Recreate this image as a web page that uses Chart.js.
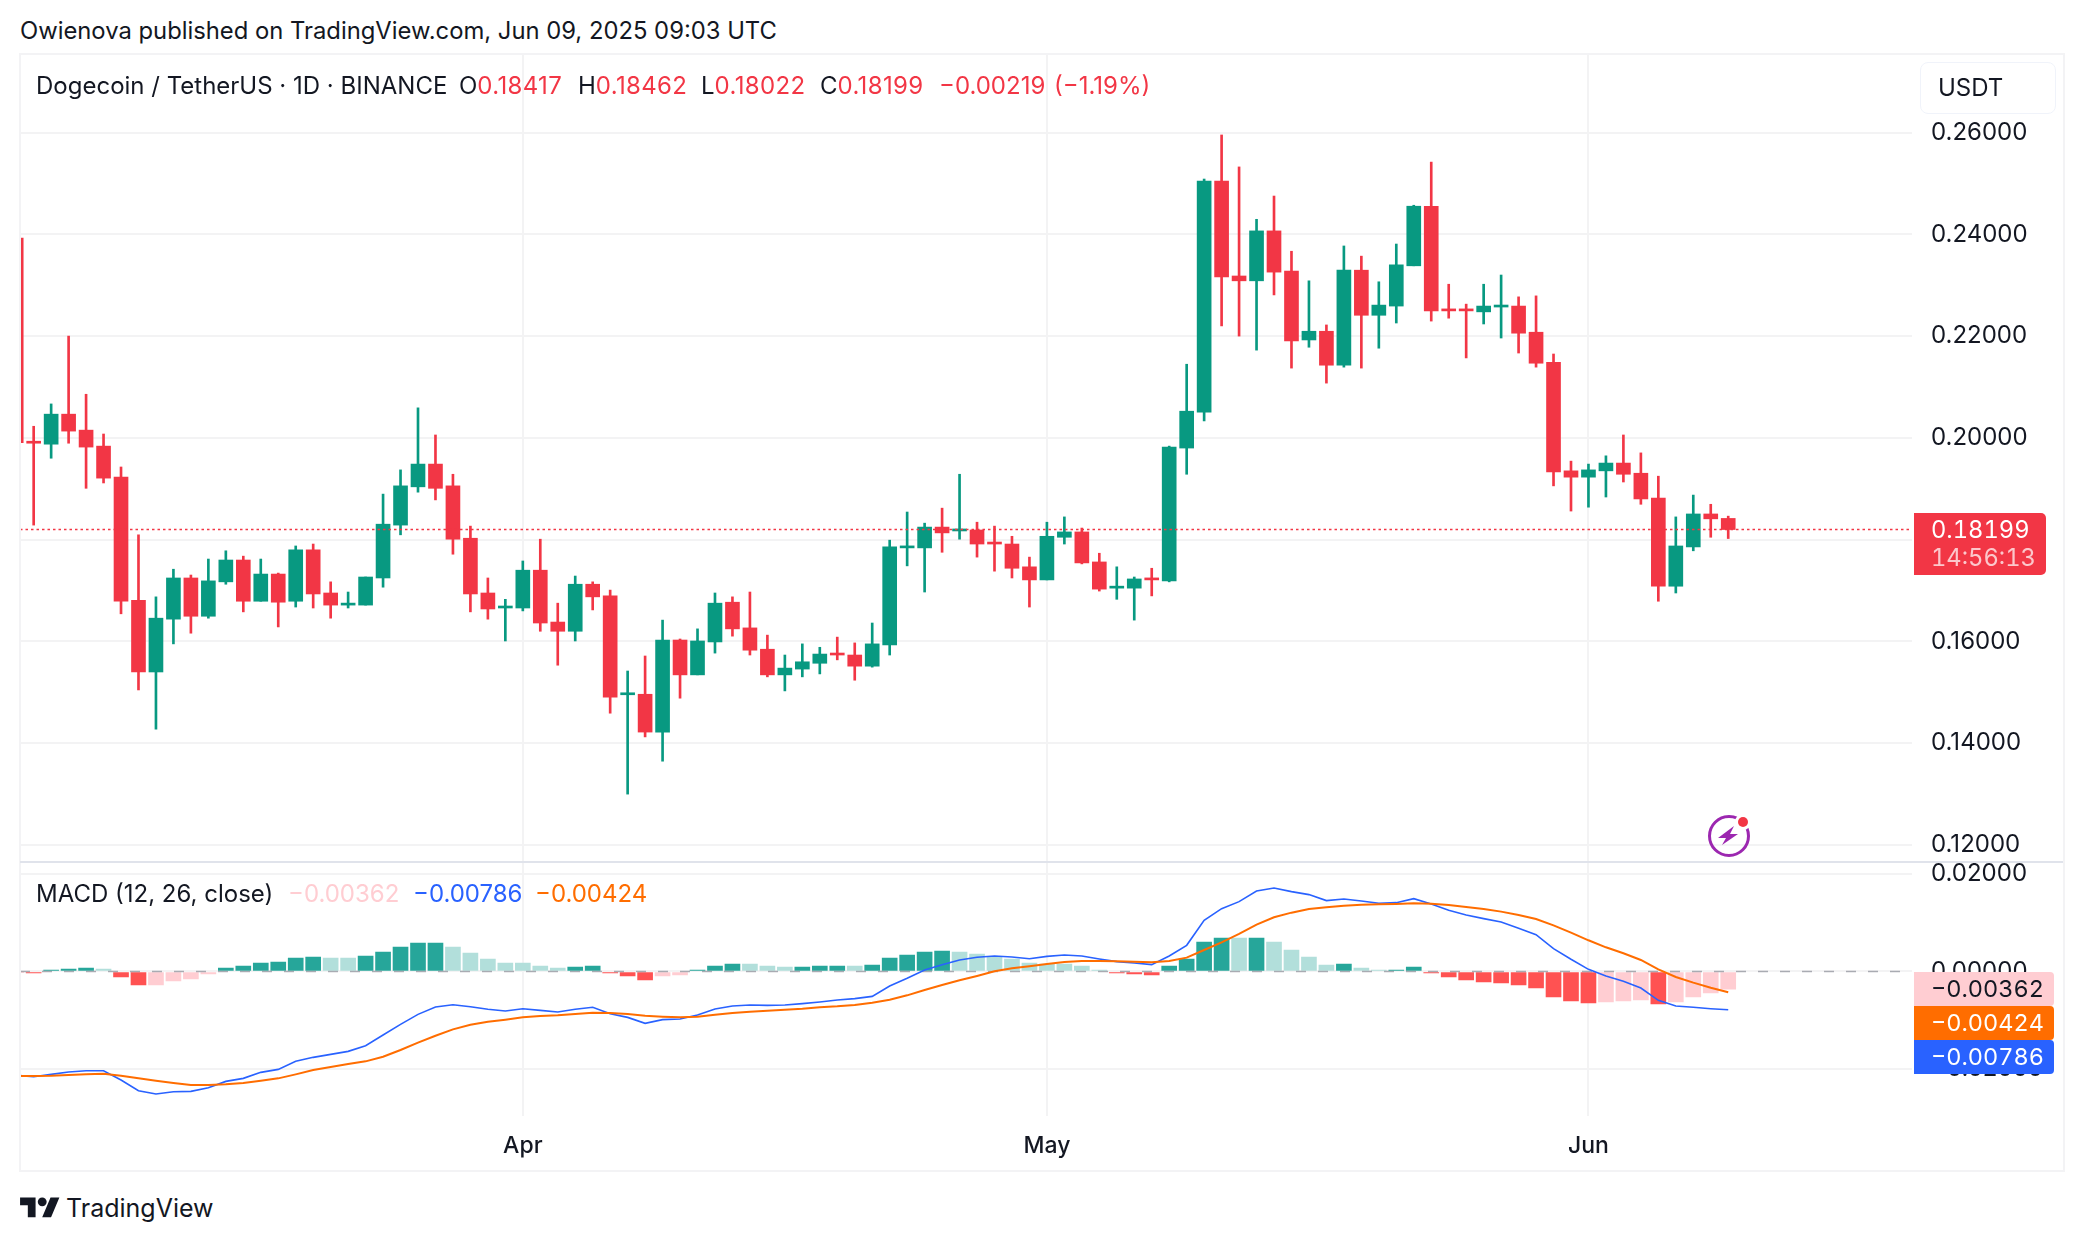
<!DOCTYPE html>
<html><head><meta charset="utf-8">
<script src="https://cdn.jsdelivr.net/npm/chart.js@4"></script>
<style>
html,body{margin:0;padding:0;background:#fff;width:2084px;height:1242px;overflow:hidden}
body{font-family:Inter,"Noto Sans",sans-serif;color:#131722;position:relative}
canvas{position:absolute;left:0;display:block}
.t{position:absolute;white-space:nowrap;line-height:1;transform:translateY(-50%)}
.n{font-variant-numeric:tabular-nums}
.r{color:#f23645}
.v{letter-spacing:.35px}
.b{position:absolute}
</style></head><body>
<canvas id="price" width="2084" height="808" style="top:54px"></canvas>
<canvas id="macd" width="2084" height="310" style="top:862px"></canvas>

<div class="b" style="left:19px;top:53px;width:2042px;height:1115px;border:2px solid #f3f3f5;pointer-events:none"></div>
<div class="b" style="left:20px;top:860.5px;width:2043px;height:2px;background:#e0e3eb"></div>

<div class="t" style="left:20px;top:31px;font-size:23.8px" id="pub">Owienova published on TradingView.com, Jun 09, 2025 09:03 UTC</div>
<div class="t" style="left:36px;top:86px;font-size:24px">Dogecoin / TetherUS · 1D · BINANCE</div>
<div class="t" style="left:459px;top:86px;font-size:24px">O<span class="r v">0.18417</span></div>
<div class="t" style="left:578px;top:86px;font-size:24px">H<span class="r v">0.18462</span></div>
<div class="t" style="left:701px;top:86px;font-size:24px">L<span class="r v">0.18022</span></div>
<div class="t" style="left:820px;top:86px;font-size:24px">C<span class="r v">0.18199</span></div>
<div class="t r" style="left:939px;top:86px;font-size:24px">−0.00219</div>
<div class="t r" style="left:1054px;top:86px;font-size:24px">(−1.19%)</div>

<div class="b" style="left:1920px;top:62px;width:134px;height:50px;background:#fff;border:1.5px solid #f0f3fa;border-radius:8px"></div>
<div class="t" style="left:1938px;top:88px;font-size:24px">USDT</div>

<div class="b" style="left:1914px;top:513px;width:132px;height:62px;background:#f23645;border-radius:0 5px 5px 0"></div>
<div class="t n" style="left:1931px;top:530px;font-size:23.7px;color:#fff">0.18199</div>
<div class="t n" style="left:1931px;top:558px;font-size:23.7px;color:rgba(255,255,255,.72)">14:56:13</div>

<div class="t" style="left:36px;top:894px;font-size:24px">MACD (12, 26, close)</div>
<div class="t" style="left:288px;top:894px;font-size:24px;color:#ffcdd2">−0.00362</div>
<div class="t" style="left:413px;top:894px;font-size:24px;color:#2962ff">−0.00786</div>
<div class="t" style="left:535px;top:894px;font-size:24px;color:#ff6d00">−0.00424</div>

<div class="b" style="left:1914px;top:972px;width:140px;height:34px;background:#ffcdd2;border-radius:0 4px 4px 0"></div>
<div class="b" style="left:1914px;top:1006px;width:140px;height:34px;background:#ff6d00;border-radius:0 4px 4px 0"></div>
<div class="b" style="left:1914px;top:1040px;width:140px;height:34px;background:#2962ff;border-radius:0 4px 4px 0"></div>
<div class="t n" style="left:1931px;top:989px;font-size:23.5px;color:#131722">−0.00362</div>
<div class="t n" style="left:1931px;top:1023px;font-size:23.5px;color:#fff">−0.00424</div>
<div class="t n" style="left:1931px;top:1057px;font-size:23.5px;color:#fff">−0.00786</div>

<svg class="b" style="left:20px;top:1193px" width="40" height="31" viewBox="0 0 36 28"><path fill="#131722" d="M14 22H7V11H0V4h14v18zM28 22h-8l7.5-18h8L28 22z"/><circle fill="#131722" cx="20" cy="8" r="4"/></svg>
<div class="t" style="left:66px;top:1208px;font-size:25px">TradingView</div>

<svg class="b" style="left:1705px;top:812px" width="48" height="48" viewBox="0 0 48 48">
<circle cx="24" cy="24" r="19.5" fill="none" stroke="#9c27b0" stroke-width="3"/>
<circle cx="38" cy="10" r="8" fill="#fff"/>
<circle cx="38" cy="10" r="5" fill="#f23645"/>
<path fill="#9c27b0" d="M29 14 L13 26 H21 L17 33 L33 22 H25 Z"/>
</svg>

<script>
const dates = [
 'Mar 03','Mar 04','Mar 05','Mar 06','Mar 07','Mar 08','Mar 09','Mar 10','Mar 11','Mar 12',
 'Mar 13','Mar 14','Mar 15','Mar 16','Mar 17','Mar 18','Mar 19','Mar 20','Mar 21','Mar 22',
 'Mar 23','Mar 24','Mar 25','Mar 26','Mar 27','Mar 28','Mar 29','Mar 30','Mar 31',
 'Apr 01','Apr 02','Apr 03','Apr 04','Apr 05','Apr 06','Apr 07','Apr 08','Apr 09','Apr 10',
 'Apr 11','Apr 12','Apr 13','Apr 14','Apr 15','Apr 16','Apr 17','Apr 18','Apr 19','Apr 20',
 'Apr 21','Apr 22','Apr 23','Apr 24','Apr 25','Apr 26','Apr 27','Apr 28','Apr 29','Apr 30',
 'May 01','May 02','May 03','May 04','May 05','May 06','May 07','May 08','May 09','May 10',
 'May 11','May 12','May 13','May 14','May 15','May 16','May 17','May 18','May 19','May 20',
 'May 21','May 22','May 23','May 24','May 25','May 26','May 27','May 28','May 29','May 30','May 31',
 'Jun 01','Jun 02','Jun 03','Jun 04','Jun 05','Jun 06','Jun 07','Jun 08','Jun 09'];
const opens = [
 .23924,.19933,.19876,.20466,.20152,.19838,.19228,.16809,.154,.16438,
 .17247,.16495,.17171,.176,.1679,.17324,.1679,.178,.16952,.16714,
 .16714,.17247,.18286,.19038,.19485,.19057,.18028,.16952,.16657,.16657,
 .174,.16381,.162,.17124,.16895,.14952,.14962,.14219,.16028,.15343,
 .1599,.16771,.16266,.15847,.15343,.15457,.15571,.15771,.15733,.15514,
 .15933,.17838,.17838,.18247,.18171,.1819,.17952,.17914,.17466,.17209,
 .18047,.18152,.17562,.17047,.17047,.17247,.1719,.198,.20505,.25047,
 .23181,.23086,.24067,.23276,.21924,.22095,.21428,.23295,.22409,.2259,
 .23381,.24552,.22533,.22533,.22476,.22571,.2259,.22076,.21486,.19352,
 .19228,.19352,.19505,.19305,.18819,.17085,.17857,.18505,.18417];
const highs = [
 .23924,.20228,.20667,.22,.20857,.20076,.19428,.18095,.16876,.17419,
 .17305,.17619,.17781,.17676,.17619,.17343,.17876,.17914,.17171,.16971,
 .17266,.18895,.19371,.2059,.20057,.19285,.18266,.17247,.16828,.17581,
 .18009,.16752,.17285,.17171,.17009,.15419,.15714,.16419,.16048,.16247,
 .16952,.16876,.16971,.16124,.15733,.15952,.15885,.16085,.15971,.16362,
 .1799,.18543,.18324,.18619,.19285,.18343,.18266,.18066,.17657,.18343,
 .18447,.18228,.17733,.17466,.17266,.17438,.19838,.21447,.25086,.25952,
 .25324,.24295,.24752,.23667,.23086,.22219,.23771,.23571,.23067,.23809,
 .24571,.25419,.23019,.22628,.23019,.232,.22771,.2279,.21648,.19543,
 .19485,.19647,.20057,.19705,.19247,.18447,.18876,.18695,.18462];
const lows = [
 .19905,.18286,.196,.19895,.19009,.19114,.16543,.15047,.14276,.15952,
 .16162,.16457,.17124,.16581,.1679,.16285,.16676,.16657,.16457,.16657,
 .16714,.17066,.18095,.18933,.18781,.17714,.16581,.16438,.16009,.166,
 .162,.15533,.16009,.16619,.1459,.13,.14124,.13647,.14885,.15343,
 .15771,.16104,.15733,.15304,.15028,.15304,.15362,.15638,.15238,.15495,
 .15733,.17485,.16971,.17752,.18009,.17657,.17381,.17247,.16676,.17209,
 .17914,.17524,.1699,.16828,.16419,.16895,.17171,.19285,.20333,.222,
 .22,.21724,.22809,.21371,.21781,.21076,.2139,.21371,.21762,.22257,
 .23381,.22295,.22352,.21571,.22238,.21962,.21667,.2139,.19057,.18562,
 .18638,.18838,.19133,.18695,.1679,.16952,.17781,.18047,.18022];
const closes = [
 .19905,.19895,.20466,.20133,.19819,.19209,.1679,.154,.16457,.17247,
 .16495,.1719,.176,.1679,.17324,.16771,.178,.16933,.16714,.16752,
 .17266,.18304,.19057,.19485,.19009,.18009,.16933,.16638,.16695,.174,
 .16362,.162,.17124,.16876,.14904,.1499,.14219,.16028,.15343,.16009,
 .16752,.16247,.15828,.15343,.15476,.156,.15752,.15733,.15514,.15952,
 .17857,.17876,.18247,.18133,.18209,.17914,.17914,.17438,.17209,.18066,
 .18152,.17543,.17028,.17085,.17228,.17209,.19819,.20524,.25047,.23162,
 .23086,.24067,.23257,.21905,.22095,.21428,.23295,.22409,.22609,.234,
 .24552,.22495,.22495,.22495,.2259,.22609,.22057,.21467,.19333,.19228,
 .19371,.19505,.19285,.188,.17085,.17876,.18505,.18409,.18199];
const macdLine = [
 -.02131,-.02158,-.0211,-.02062,-.02035,-.02035,-.02226,-.02445,-.02514,-.02466,
 -.02459,-.02384,-.02254,-.02192,-.02069,-.02008,-.01843,-.01761,-.017,-.01638,
 -.01522,-.01303,-.01084,-.00879,-.00728,-.00681,-.00722,-.00776,-.00811,-.00763,
 -.00797,-.00831,-.00776,-.00735,-.00865,-.00941,-.01064,-.00988,-.00975,-.00893,
 -.0077,-.00708,-.00687,-.00694,-.00687,-.0066,-.00626,-.00585,-.00557,-.0051,
 -.00298,-.0014,.00031,.0014,.00236,.00291,.00318,.00298,.00263,.00311,
 .00339,.00318,.00257,.00202,.00174,.0014,.00318,.00537,.0105,.01289,
 .01433,.01652,.01713,.01638,.01577,.01454,.01488,.01447,.01399,.01412,
 .01495,.01385,.01255,.01159,.01084,.01016,.00886,.00756,.00469,.0025,
 .00044,-.00092,-.00202,-.00339,-.00592,-.00708,-.00735,-.00763,-.00786];
const signalLine = [
 -.02144,-.02144,-.02138,-.02124,-.0211,-.02096,-.02138,-.02192,-.0224,-.02288,
 -.02329,-.02329,-.02315,-.02288,-.0224,-.02192,-.0211,-.02021,-.0196,-.01898,
 -.01843,-.01748,-.01611,-.0146,-.01317,-.01187,-.01091,-.01029,-.00988,-.00941,
 -.00913,-.00899,-.00872,-.00845,-.00852,-.00872,-.00906,-.00927,-.00941,-.00927,
 -.00886,-.00852,-.00824,-.00804,-.00783,-.00763,-.00735,-.00715,-.00687,-.0064,
 -.00578,-.00489,-.0038,-.00277,-.00181,-.00092,.00003,.00065,.00106,.00154,
 .00195,.00215,.00215,.00209,.00202,.00188,.00215,.00284,.00441,.00599,
 .0077,.00961,.01112,.01207,.01283,.01317,.01351,.01371,.01378,.01385,
 .01399,.01392,.01365,.01324,.01283,.01228,.01159,.01077,.00947,.00797,
 .0064,.00496,.00373,.00236,.00044,-.00113,-.00229,-.00332,-.00424];
const histogram = [
 -.0001,-.00031,.00031,.00051,.00072,.00051,-.00113,-.00277,-.00277,-.00195,
 -.00154,-.00051,.00072,.00113,.00174,.00195,.00277,.00297,.00277,.00277,
 .00318,.004,.00503,.00585,.00585,.00503,.0038,.00256,.00174,.00174,
 .00113,.00072,.00092,.00113,-.00031,-.00092,-.00175,-.00092,-.00072,.00031,
 .00113,.00154,.00154,.00113,.00092,.00092,.00113,.00113,.00113,.00133,
 .00277,.00338,.004,.00421,.004,.00359,.00297,.00256,.00174,.00154,
 .00154,.00113,.00031,-.00031,-.00051,-.00072,.00113,.00256,.00605,.00687,
 .00687,.00687,.00605,.00441,.00297,.00133,.00154,.00072,.00031,.00031,
 .00092,-.00031,-.00113,-.00175,-.00216,-.00236,-.00277,-.00339,-.00523,-.00605,
 -.00646,-.00626,-.00605,-.00585,-.00667,-.00626,-.00523,-.00441,-.00362];
// 1 = histogram moved away from zero that day, 0 = moved back toward zero
const histGrowing = [
 0,1,1,1,1,0,1,1,0,0,
 0,0,1,1,1,1,1,1,0,0,
 1,1,1,1,1,0,0,0,0,0,
 0,0,1,1,1,1,1,0,0,1,
 1,1,0,0,0,1,1,1,0,1,
 1,1,1,1,0,0,0,0,0,0,
 0,0,0,1,1,1,1,1,1,1,
 0,1,0,0,0,0,1,0,0,1,
 1,1,1,1,1,1,1,1,1,1,
 1,0,0,0,1,0,0,0,0];
const priceTicks = [.12,.14,.16,.18,.2,.22,.24,.26];
const priceTickLabels = ['0.12000','0.14000','0.16000','','0.20000','0.22000','0.24000','0.26000'];
const macdTicks = [-.02,0,.02];
const macdTickLabels = ['−0.02000','0.00000','0.02000'];
const monthTicks = {'Apr 01':'Apr','May 01':'May','Jun 01':'Jun'};
const lastPrice = closes[closes.length-1];

const UP='#089981', DOWN='#f23645', GRID='#f3f3f4', INK='#131722';
const FONT='Inter';
const X_MIN=.2175, X_MAX=108.52;
const monthIdx=Object.keys(monthTicks).map(k=>dates.indexOf(k));
const xs=dates.map((_,i)=>i);
const candleColor=c=>closes[c.dataIndex]>=opens[c.dataIndex]?UP:DOWN;
const noPad=s=>{s.paddingTop=s.paddingBottom=s.paddingLeft=s.paddingRight=0;};

function xScale(showLabels){return {
  type:'linear',min:X_MIN,max:X_MAX,offset:false,
  afterBuildTicks:s=>{s.ticks=monthIdx.map(v=>({value:v}));},
  grid:{color:GRID,lineWidth:2,drawTicks:false,offset:false},
  border:{display:false},
  afterFit:s=>{s.height=showLabels?56.3:0;noPad(s);},
  ticks:{display:showLabels,autoSkip:false,maxRotation:0,padding:17,color:INK,
    font:{family:FONT,size:23,weight:'500'},
    callback:v=>monthTicks[dates[v]]||''}
};}
function yScale(min,max,ticks,labels){return {
  position:'right',min,max,
  afterBuildTicks:s=>{s.ticks=ticks.map(v=>({value:v}));},
  afterFit:s=>{s.width=172;noPad(s);},
  grid:{color:GRID,lineWidth:2,drawTicks:false},
  border:{display:false},
  ticks:{autoSkip:false,crossAlign:'near',padding:19,color:INK,
    font:{family:FONT,size:24},
    callback:(v,i)=>labels[i]}
};}
const common={responsive:false,animation:false,devicePixelRatio:1,
  layout:{padding:{left:20,right:0,top:0,bottom:0}},
  plugins:{legend:{display:false},tooltip:{enabled:false}}};

new Chart(document.getElementById('price'),{type:'bar',
 data:{datasets:[
  {label:'wick',order:3,grouped:false,barThickness:2,
   data:xs.map(i=>({x:i,y:[lows[i],highs[i]]})),
   backgroundColor:candleColor},
  {label:'body',order:2,grouped:false,barThickness:14,minBarLength:2,
   data:xs.map(i=>({x:i,y:[Math.min(opens[i],closes[i]),Math.max(opens[i],closes[i])]})),
   backgroundColor:candleColor},
  {type:'line',label:'last',order:1,borderColor:DOWN,borderWidth:1.6,borderDash:[2.5,3],
   pointRadius:0,data:[{x:X_MIN,y:lastPrice},{x:X_MAX,y:lastPrice}]}
 ]},
 options:{...common,scales:{x:xScale(false),y:yScale(.11666,.27543,priceTicks,priceTickLabels)}}
});

new Chart(document.getElementById('macd'),{type:'bar',
 data:{datasets:[
  {label:'hist',order:4,grouped:false,barThickness:15,
   data:xs.map(i=>({x:i,y:histogram[i]})),
   backgroundColor:c=>{const v=histogram[c.dataIndex],g=histGrowing[c.dataIndex];
     return v>=0?(g?'#26a69a':'#b2dfdb'):(g?'#ff5252':'#ffcdd2');}},
  {type:'line',label:'zero',order:3,borderColor:'rgba(120,123,134,.6)',borderWidth:1.6,borderDash:[10,12],
   pointRadius:0,data:[{x:X_MIN,y:0},{x:X_MAX,y:0}]},
  {type:'line',label:'MACD',order:2,borderColor:'#2962ff',borderWidth:1.6,pointRadius:0,tension:0,
   data:xs.map(i=>({x:i,y:macdLine[i]}))},
  {type:'line',label:'Signal',order:1,borderColor:'#ff6d00',borderWidth:2,pointRadius:0,tension:0,
   data:xs.map(i=>({x:i,y:signalLine[i]}))}
 ]},
 options:{...common,scales:{x:xScale(true),y:yScale(-.02958,.02246,macdTicks,macdTickLabels)}}
});
</script>
</body></html>
